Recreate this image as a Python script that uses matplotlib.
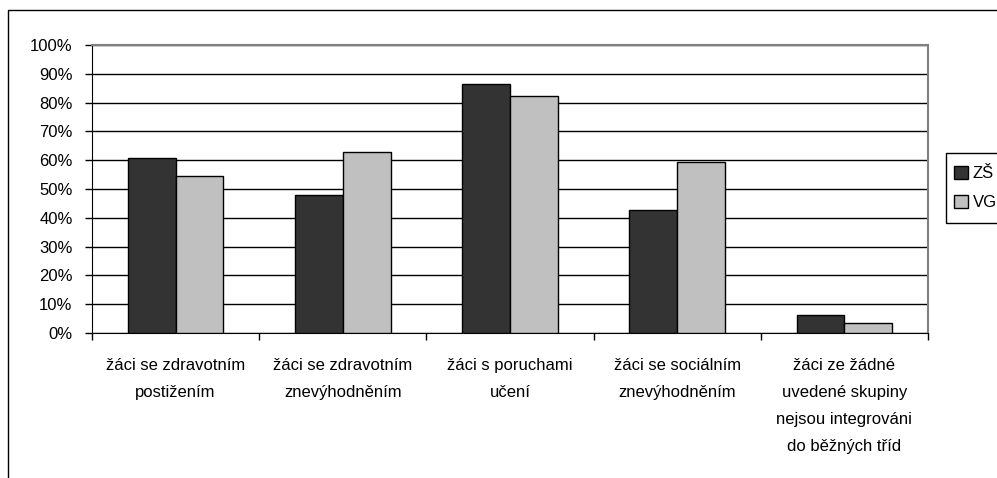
import matplotlib.pyplot as plt
import matplotlib.patches as mpatches
import numpy as np

plt.rcParams['font.family'] = ['Liberation Sans', 'DejaVu Sans']

categories = [
    "žáci se zdravotním\npostižením",
    "žáci se zdravotním\nznevýhodněním",
    "žáci s poruchami\nučení",
    "žáci se sociálním\nznevýhodněním",
    "žáci ze žádné\nuvedené skupiny\nnejsou integrováni\ndo běžných tříd",
]
zs_values = [60.6, 48.0, 86.4, 42.8, 6.4]
vg_values = [54.4, 63.0, 82.4, 59.5, 3.4]
series_names = ["ZŠ", "VG"]
y_ticks = [0, 10, 20, 30, 40, 50, 60, 70, 80, 90, 100]

W, H = 997, 478
fig = plt.figure(figsize=(W / 100, H / 100), dpi=100)

# outer chart border (cut off at right and bottom like the original)
fig.patches.append(mpatches.Rectangle((8 / W, -0.1), 1.2, 1 - 10 / H + 0.1,
                                      transform=fig.transFigure, fill=False,
                                      edgecolor='black', linewidth=1.0))
# legend frame, also running past the right edge
fig.patches.append(mpatches.Rectangle((946 / W, 1 - 223 / H), 0.2, 70 / H,
                                      transform=fig.transFigure, fill=False,
                                      edgecolor='black', linewidth=1.0))

ax = fig.add_axes([92 / W, 1 - 333 / H, (928 - 92) / W, (333 - 45) / H])

x = np.arange(len(categories))
bw = 1 / 3.5
ax.bar(x - bw / 2, zs_values, bw, color='#333333', edgecolor='black', linewidth=1.0,
       label=series_names[0], zorder=3)
ax.bar(x + bw / 2, vg_values, bw, color='#c0c0c0', edgecolor='black', linewidth=1.0,
       label=series_names[1], zorder=3)

ax.set_xlim(-0.5, len(categories) - 0.5)
ax.set_ylim(0, 100)
ax.set_yticks(y_ticks)
ax.set_yticklabels([f"{v}%" for v in y_ticks])
ax.yaxis.grid(True, color='black', linewidth=1.0, zorder=1)
ax.set_axisbelow(True)

ax.set_xticks(x)
ax.set_xticklabels(categories, linespacing=2.0)
ax.set_xticks(np.arange(-0.5, len(categories)), minor=True)
ax.tick_params(axis='x', which='major', length=0, pad=18, labelsize=12)
ax.tick_params(axis='x', which='minor', length=5, width=1, direction='out', color='black')
ax.tick_params(axis='y', length=5, width=1, pad=9, labelsize=12, color='black')

for s in ['top', 'right']:
    ax.spines[s].set_color('#808080')
    ax.spines[s].set_linewidth(1.5)
ax.spines['left'].set_color('black')
ax.spines['bottom'].set_color('black')

fig.legend(loc='upper left', bbox_to_anchor=(946 / W, 1 - 158 / H), fontsize=12,
           frameon=False, handlelength=0.8, handleheight=0.8, handletextpad=0.3,
           borderpad=0.5, labelspacing=0.8, borderaxespad=0)

fig.savefig('out.png', dpi=100)
